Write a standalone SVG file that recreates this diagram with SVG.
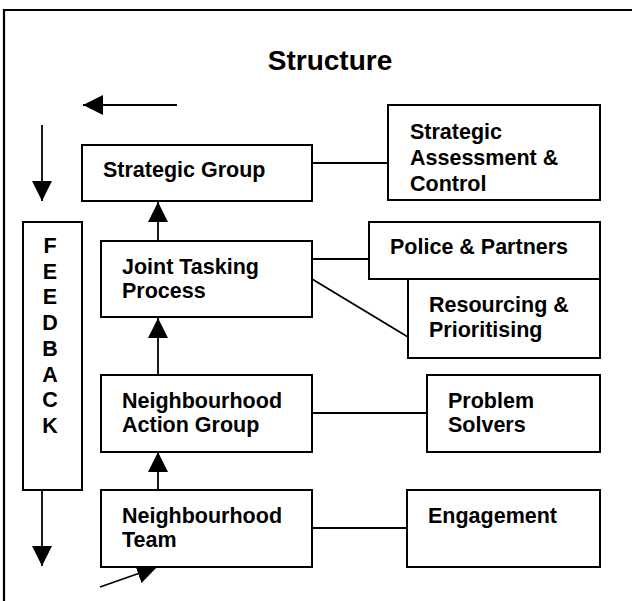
<svg xmlns="http://www.w3.org/2000/svg" width="632" height="601" viewBox="0 0 632 601">
<style>
.box{fill:#fff;stroke:#000;stroke-width:2}
.t{font-family:"Liberation Sans",Arial,sans-serif;font-weight:bold;font-size:21.5px;fill:#000}
.title{font-family:"Liberation Sans",Arial,sans-serif;font-weight:bold;font-size:28px;fill:#000}
.ln{stroke:#000;stroke-width:1.8;fill:none}
</style>
<defs>
<marker id="ah" markerWidth="20" markerHeight="20" refX="20" refY="10" orient="auto" markerUnits="userSpaceOnUse" viewBox="0 0 20 20">
<path d="M0,0 L20,10 L0,20 Z" fill="#000"/>
</marker>
</defs>
<rect width="632" height="601" fill="#fff"/>
<path d="M4,601 V10 H632" fill="none" stroke="#000" stroke-width="2.2"/>
<text class="title" x="330" y="70" text-anchor="middle">Structure</text>
<g id="connectors">
<line class="ln" x1="177" y1="105" x2="83" y2="105" marker-end="url(#ah)"/>
<line class="ln" x1="42" y1="125" x2="42" y2="201" marker-end="url(#ah)"/>
<line class="ln" x1="42" y1="490" x2="42" y2="566" marker-end="url(#ah)"/>
<line class="ln" x1="158" y1="241" x2="158" y2="202" marker-end="url(#ah)"/>
<line class="ln" x1="158" y1="375" x2="158" y2="318" marker-end="url(#ah)"/>
<line class="ln" x1="158" y1="490" x2="158" y2="452" marker-end="url(#ah)"/>
<line class="ln" x1="100" y1="587" x2="157" y2="567" marker-end="url(#ah)"/>
<line class="ln" x1="312" y1="163" x2="388" y2="163"/>
<line class="ln" x1="312" y1="259" x2="369" y2="259"/>
<line class="ln" x1="312" y1="279" x2="408" y2="337"/>
<line class="ln" x1="312" y1="413" x2="427" y2="413"/>
<line class="ln" x1="312" y1="528" x2="407" y2="528"/>
</g>
<g id="feedback">
<rect class="box" x="23" y="222" width="59" height="268"/>
<g class="t" text-anchor="middle">
<text x="50" y="253">F</text>
<text x="50" y="279">E</text>
<text x="50" y="304">E</text>
<text x="50" y="330">D</text>
<text x="50" y="356">B</text>
<text x="50" y="382">A</text>
<text x="50" y="407">C</text>
<text x="50" y="433">K</text>
</g>
</g>
<g id="strategic-group">
<rect class="box" x="82" y="145" width="230" height="56"/>
<text class="t" x="103" y="177">Strategic Group</text>
</g>
<g id="strategic-assessment">
<rect class="box" x="388" y="105" width="212" height="95"/>
<text class="t" x="410" y="139">Strategic</text>
<text class="t" x="410" y="165">Assessment &amp;</text>
<text class="t" x="410" y="191">Control</text>
</g>
<g id="joint-tasking">
<rect class="box" x="101" y="241" width="211" height="76"/>
<text class="t" x="122" y="274">Joint Tasking</text>
<text class="t" x="122" y="298">Process</text>
</g>
<g id="police-partners">
<rect class="box" x="369" y="222" width="231" height="57"/>
<text class="t" x="390" y="254">Police &amp; Partners</text>
</g>
<g id="resourcing">
<rect class="box" x="408" y="279" width="192" height="79"/>
<text class="t" x="429" y="312">Resourcing &amp;</text>
<text class="t" x="429" y="337">Prioritising</text>
</g>
<g id="nag">
<rect class="box" x="101" y="375" width="211" height="77"/>
<text class="t" x="122" y="408">Neighbourhood</text>
<text class="t" x="122" y="432">Action Group</text>
</g>
<g id="problem-solvers">
<rect class="box" x="427" y="375" width="173" height="77"/>
<text class="t" x="448" y="408">Problem</text>
<text class="t" x="448" y="432">Solvers</text>
</g>
<g id="neighbourhood-team">
<rect class="box" x="101" y="490" width="211" height="77"/>
<text class="t" x="122" y="523">Neighbourhood</text>
<text class="t" x="122" y="547">Team</text>
</g>
<g id="engagement">
<rect class="box" x="407" y="490" width="193" height="77"/>
<text class="t" x="428" y="523">Engagement</text>
</g>
</svg>
